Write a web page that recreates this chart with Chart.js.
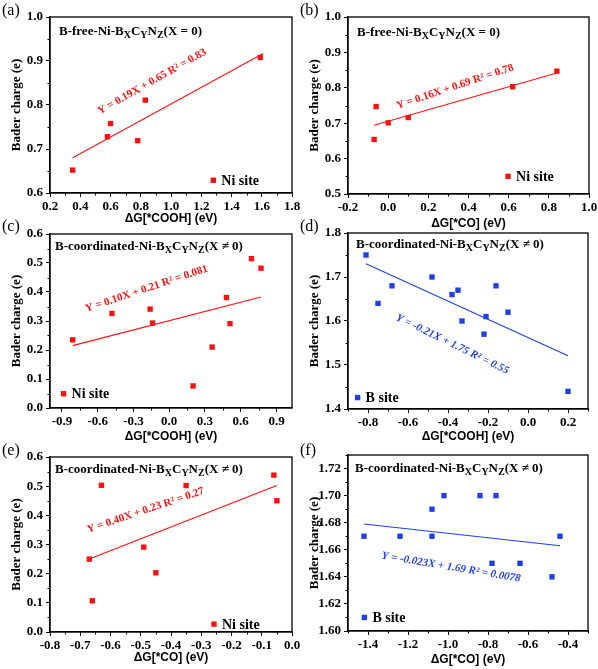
<!DOCTYPE html>
<html>
<head>
<meta charset="utf-8">
<script src="https://cdn.jsdelivr.net/npm/chart.js@4.4.1/dist/chart.umd.min.js"></script>
<style>
  body { margin: 0; background: #fff; width: 598px; height: 669px; position: relative; overflow: hidden; }
  canvas { position: absolute; }
</style>
</head>
<body>
<canvas id="pa"></canvas>
<canvas id="pb"></canvas>
<canvas id="pc"></canvas>
<canvas id="pd"></canvas>
<canvas id="pe"></canvas>
<canvas id="pf"></canvas>
<script>
// (a) B-free, Ni site vs dG[*COOH]
const aCooh = [0.35, 0.58, 0.60, 0.78, 0.83, 1.59];
const aNiCharge = [0.652, 0.728, 0.758, 0.719, 0.811, 0.908];
const aFitX = [0.35, 1.61];
const aFitY = [0.680, 0.917];
const aXTicks = [0.2, 0.4, 0.6, 0.8, 1.0, 1.2, 1.4, 1.6, 1.8];
const aYTicks = [0.6, 0.7, 0.8, 0.9, 1.0];

// (b) B-free, Ni site vs dG[*CO]
const bCo = [-0.07, -0.06, 0.00, 0.10, 0.62, 0.84];
const bNiCharge = [0.654, 0.747, 0.701, 0.716, 0.803, 0.847];
const bFitX = [-0.07, 0.84];
const bFitY = [0.694, 0.842];
const bXTicks = [-0.2, 0.0, 0.2, 0.4, 0.6, 0.8, 1.0];
const bYTicks = [0.5, 0.6, 0.7, 0.8, 0.9, 1.0];

// (c) B-coordinated, Ni site vs dG[*COOH]
const cCooh = [-0.81, -0.48, -0.16, -0.14, 0.20, 0.36, 0.48, 0.51, 0.69, 0.77];
const cNiCharge = [0.235, 0.326, 0.341, 0.293, 0.076, 0.210, 0.381, 0.291, 0.515, 0.482];
const cFitX = [-0.81, 0.77];
const cFitY = [0.215, 0.383];
const cXTicks = [-0.9, -0.6, -0.3, 0.0, 0.3, 0.6, 0.9];
const cYTicks = [0.0, 0.1, 0.2, 0.3, 0.4, 0.5, 0.6];

// (d) B-coordinated, B site vs dG[*COOH]
const dCooh = [-0.81, -0.75, -0.68, -0.48, -0.38, -0.35, -0.33, -0.22, -0.21, -0.16, -0.10, 0.20];
const dBCharge = [1.75, 1.64, 1.68, 1.70, 1.66, 1.67, 1.60, 1.57, 1.61, 1.68, 1.62, 1.44];
const dFitX = [-0.81, 0.20];
const dFitY = [1.730, 1.521];
const dXTicks = [-0.8, -0.6, -0.4, -0.2, 0.0, 0.2];
const dYTicks = [1.4, 1.5, 1.6, 1.7, 1.8];

// (e) B-coordinated, Ni site vs dG[*CO]
const eCo = [-0.67, -0.66, -0.63, -0.49, -0.45, -0.35, -0.06, -0.05];
const eNiCharge = [0.250, 0.107, 0.503, 0.291, 0.203, 0.502, 0.538, 0.450];
const eFitX = [-0.67, -0.05];
const eFitY = [0.250, 0.502];
const eXTicks = [-0.8, -0.7, -0.6, -0.5, -0.4, -0.3, -0.2, -0.1, 0.0];
const eYTicks = [0.0, 0.1, 0.2, 0.3, 0.4, 0.5, 0.6];

// (f) B-coordinated, B site vs dG[*CO]
const fCo = [-1.42, -1.24, -1.08, -1.08, -1.02, -0.84, -0.76, -0.78, -0.64, -0.48, -0.44];
const fBCharge = [1.67, 1.67, 1.67, 1.69, 1.70, 1.70, 1.70, 1.65, 1.65, 1.64, 1.67];
const fFitX = [-1.42, -0.44];
const fFitY = [1.679, 1.663];
const fXTicks = [-1.4, -1.2, -1.0, -0.8, -0.6, -0.4];
const fYTicks = [1.60, 1.62, 1.64, 1.66, 1.68, 1.70, 1.72];

const RED = '#ff1010';
const BLUE = '#1f3fe8';
const titleFree = [['B-free-Ni-B', 0], ['X', 1], ['C', 0], ['Y', 1], ['N', 0], ['Z', 1], ['(X = 0)', 0]];
const titleCoord = [['B-coordinated-Ni-B', 0], ['X', 1], ['C', 0], ['Y', 1], ['N', 0], ['Z', 1], ['(X \u2260 0)', 0]];
const SERIF = '"Liberation Serif", "Times New Roman", serif';

const panels = [
  { id: 'pa', tag: '(a)', left: 0, top: 0, L: 50, R: 292, T: 17, B: 193, xt: 219,
    xs: aCooh, ys: aNiCharge, fx: aFitX, fy: aFitY, xTicks: aXTicks, yTicks: aYTicks,
    xMin: 0.2, xMax: 1.8, yMin: 0.6, yMax: 1.0, xDec: 1, yDec: 1,
    color: RED, title: titleFree, tdx: 9, tdy: 18, xLabel: '\u0394G[*COOH] (eV)',
    eq: 'Y = 0.19X + 0.65 R\u00b2 = 0.83', eqX: 0.875, eqY: 0.853, eqA: -29.5, italic: false,
    leg: 'Ni site', legX: 1.28, legY: 0.629 },
  { id: 'pb', tag: '(b)', left: 298, top: 0, L: 348, R: 589, T: 17, B: 194, xt: 224,
    xs: bCo, ys: bNiCharge, fx: bFitX, fy: bFitY, xTicks: bXTicks, yTicks: bYTicks,
    xMin: -0.2, xMax: 1.0, yMin: 0.5, yMax: 1.0, xDec: 1, yDec: 1,
    color: RED, title: titleFree, tdx: 9, tdy: 19, xLabel: '\u0394G[*CO] (eV)',
    eq: 'Y = 0.16X + 0.69 R\u00b2 = 0.78', eqX: 0.333, eqY: 0.803, eqA: -18.5, italic: false,
    leg: 'Ni site', legX: 0.597, legY: 0.550 },
  { id: 'pc', tag: '(c)', left: 0, top: 216, L: 50, R: 292, T: 234, B: 408, xt: 437,
    xs: cCooh, ys: cNiCharge, fx: cFitX, fy: cFitY, xTicks: cXTicks, yTicks: cYTicks,
    xMin: -1.0, xMax: 1.03, yMin: 0.0, yMax: 0.6, xDec: 1, yDec: 1,
    color: RED, title: titleCoord, tdx: 5, tdy: 16, xLabel: '\u0394G[*COOH] (eV)',
    eq: 'Y = 0.10X + 0.21 R\u00b2 = 0.081', eqX: -0.19, eqY: 0.411, eqA: -18.5, italic: false,
    leg: 'Ni site', legX: -0.886, legY: 0.049 },
  { id: 'pd', tag: '(d)', left: 298, top: 216, L: 348, R: 588, T: 233, B: 409, xt: 437,
    xs: dCooh, ys: dBCharge, fx: dFitX, fy: dFitY, xTicks: dXTicks, yTicks: dYTicks,
    xMin: -0.9, xMax: 0.3, yMin: 1.4, yMax: 1.8, xDec: 1, yDec: 1,
    color: BLUE, title: titleCoord, tdx: 8, tdy: 15, xLabel: '\u0394G[*COOH] (eV)',
    eq: 'Y = -0.21X + 1.75 R\u00b2 = 0.55', eqX: -0.378, eqY: 1.547, eqA: 26, italic: true,
    leg: 'B site', legX: -0.852, legY: 1.426 },
  { id: 'pe', tag: '(e)', left: 0, top: 440, L: 50, R: 292, T: 457, B: 632, xt: 658,
    xs: eCo, ys: eNiCharge, fx: eFitX, fy: eFitY, xTicks: eXTicks, yTicks: eYTicks,
    xMin: -0.8, xMax: 0.0, yMin: 0.0, yMax: 0.6, xDec: 1, yDec: 1,
    color: RED, title: titleCoord, tdx: 5, tdy: 16, xLabel: '\u0394G[*CO] (eV)',
    eq: 'Y = 0.40X + 0.23 R\u00b2 = 0.27', eqX: -0.484, eqY: 0.417, eqA: -18.7, italic: false,
    leg: 'Ni site', legX: -0.258, legY: 0.027 },
  { id: 'pf', tag: '(f)', left: 298, top: 440, L: 348, R: 588, T: 455, B: 631, xt: 660,
    xs: fCo, ys: fBCharge, fx: fFitX, fy: fFitY, xTicks: fXTicks, yTicks: fYTicks,
    xMin: -1.5, xMax: -0.3, yMin: 1.60, yMax: 1.73, xDec: 1, yDec: 2,
    color: BLUE, title: titleCoord, tdx: 7, tdy: 17, xLabel: '\u0394G[*CO] (eV)',
    eq: 'Y = -0.023X + 1.69 R\u00b2 = 0.0078', eqX: -0.985, eqY: 1.647, eqA: 9.5, italic: true,
    leg: 'B site', legX: -1.418, legY: 1.610 }
];

// frame, minor ticks, panel tag, in-plot title, fit equation and legend
const decor = {
  id: 'decor',
  afterDraw(chart, args, o) {
    const { ctx, chartArea: a, scales: { x, y } } = chart;
    const p = o.p;
    ctx.save();
    ctx.strokeStyle = '#000';
    ctx.lineWidth = 1.3;
    ctx.strokeRect(a.left, a.top, a.right - a.left, a.bottom - a.top);

    // minor ticks halfway between the major ones
    ctx.lineWidth = 1;
    const minor = (ticks, lo, hi, draw) => {
      const st = ticks[1] - ticks[0];
      for (let v = ticks[0] - st / 2; v <= hi + 1e-9; v += st) {
        if (v >= lo - 1e-9) draw(v);
      }
    };
    ctx.beginPath();
    minor(p.xTicks, p.xMin, p.xMax, v => {
      const px = Math.round(x.getPixelForValue(v)) + 0.5;
      ctx.moveTo(px, a.bottom); ctx.lineTo(px, a.bottom + 2.5);
    });
    minor(p.yTicks, p.yMin, p.yMax, v => {
      const py = Math.round(y.getPixelForValue(v)) + 0.5;
      ctx.moveTo(a.left, py); ctx.lineTo(a.left - 2.5, py);
    });
    ctx.stroke();

    ctx.fillStyle = '#000';
    ctx.textAlign = 'left';
    ctx.textBaseline = 'alphabetic';
    ctx.font = '16px ' + SERIF;
    ctx.fillText(p.tag, 2, 15);

    let tx = a.left + p.tdx;
    const ty = a.top + p.tdy;
    p.title.forEach(([s, sub]) => {
      ctx.font = (sub ? 'bold 10px ' : 'bold 13px ') + SERIF;
      ctx.fillText(s, tx, ty + (sub ? 3 : 0));
      tx += ctx.measureText(s).width;
    });

    // legend
    const lx = x.getPixelForValue(p.legX), ly = y.getPixelForValue(p.legY);
    ctx.fillStyle = p.color;
    ctx.fillRect(lx - 2.7, ly - 2.7, 5.4, 5.4);
    ctx.fillStyle = '#000';
    ctx.font = 'bold 14px ' + SERIF;
    ctx.textBaseline = 'middle';
    ctx.fillText(p.leg, lx + 8, ly + 1);

    // fit equation
    ctx.translate(x.getPixelForValue(p.eqX), y.getPixelForValue(p.eqY));
    ctx.rotate(p.eqA * Math.PI / 180);
    ctx.fillStyle = p.color;
    ctx.textAlign = 'center';
    ctx.font = (p.italic ? 'italic bold 11px ' : 'bold 11px ') + SERIF;
    ctx.fillText(p.eq, 0, 0);
    ctx.restore();
  }
};

function makePanel(p) {
  const cv = document.getElementById(p.id);
  const W = 300, H = p.xt - p.top + 9;
  cv.width = W; cv.height = H;
  cv.style.left = p.left + 'px';
  cv.style.top = p.top + 'px';
  cv.style.width = W + 'px';
  cv.style.height = H + 'px';

  const tickFont = { family: SERIF, weight: 'bold', size: 13 };
  const setTicks = arr => axis => { axis.ticks = arr.map(v => ({ value: v })); };

  new Chart(cv, {
    type: 'scatter',
    data: {
      datasets: [
        {
          data: p.xs.map((v, i) => ({ x: v, y: p.ys[i] })),
          pointStyle: 'rect', pointRadius: 3.8, backgroundColor: p.color, borderWidth: 0
        },
        {
          type: 'line',
          data: p.fx.map((v, i) => ({ x: v, y: p.fy[i] })),
          borderColor: p.color, borderWidth: 1.1, pointRadius: 0, fill: false
        }
      ]
    },
    options: {
      responsive: false,
      animation: false,
      devicePixelRatio: 1,
      layout: { padding: { left: 0, top: p.T - p.top, right: p.left + W - p.R, bottom: 0 } },
      plugins: { legend: { display: false }, tooltip: { enabled: false }, decor: { p } },
      scales: {
        x: {
          type: 'linear', min: p.xMin, max: p.xMax,
          afterBuildTicks: setTicks(p.xTicks),
          afterFit: s => { s.height = H - (p.B - p.top); s.paddingLeft = 0; s.paddingRight = 0; },
          grid: { display: true, drawOnChartArea: false, drawTicks: true, tickLength: 4, color: '#000', tickWidth: 1 },
          border: { display: true, color: '#000', width: 1.3 },
          ticks: { font: tickFont, color: '#000', padding: 2, maxRotation: 0, autoSkip: false,
                   callback: v => v.toFixed(p.xDec) },
          title: { display: true, text: p.xLabel, color: '#000',
                   font: { family: '"Liberation Sans", Arial, sans-serif', weight: 'bold', size: 12 },
                   padding: { top: 0, bottom: 1.8 } }
        },
        y: {
          type: 'linear', min: p.yMin, max: p.yMax,
          afterBuildTicks: setTicks(p.yTicks),
          afterFit: s => { s.width = p.L - p.left; s.paddingTop = 0; s.paddingBottom = 0; },
          grid: { display: true, drawOnChartArea: false, drawTicks: true, tickLength: 4, color: '#000', tickWidth: 1 },
          border: { display: true, color: '#000', width: 1.3 },
          ticks: { font: tickFont, color: '#000', padding: 3, autoSkip: false,
                   callback: v => v.toFixed(p.yDec) },
          title: { display: true, text: 'Bader charge (e)', color: '#000',
                   font: { family: SERIF, weight: 'bold', size: 13 },
                   padding: { top: 9.2, bottom: 0 } }
        }
      }
    },
    plugins: [decor]
  });
}

panels.forEach(makePanel);
</script>
</body>
</html>
